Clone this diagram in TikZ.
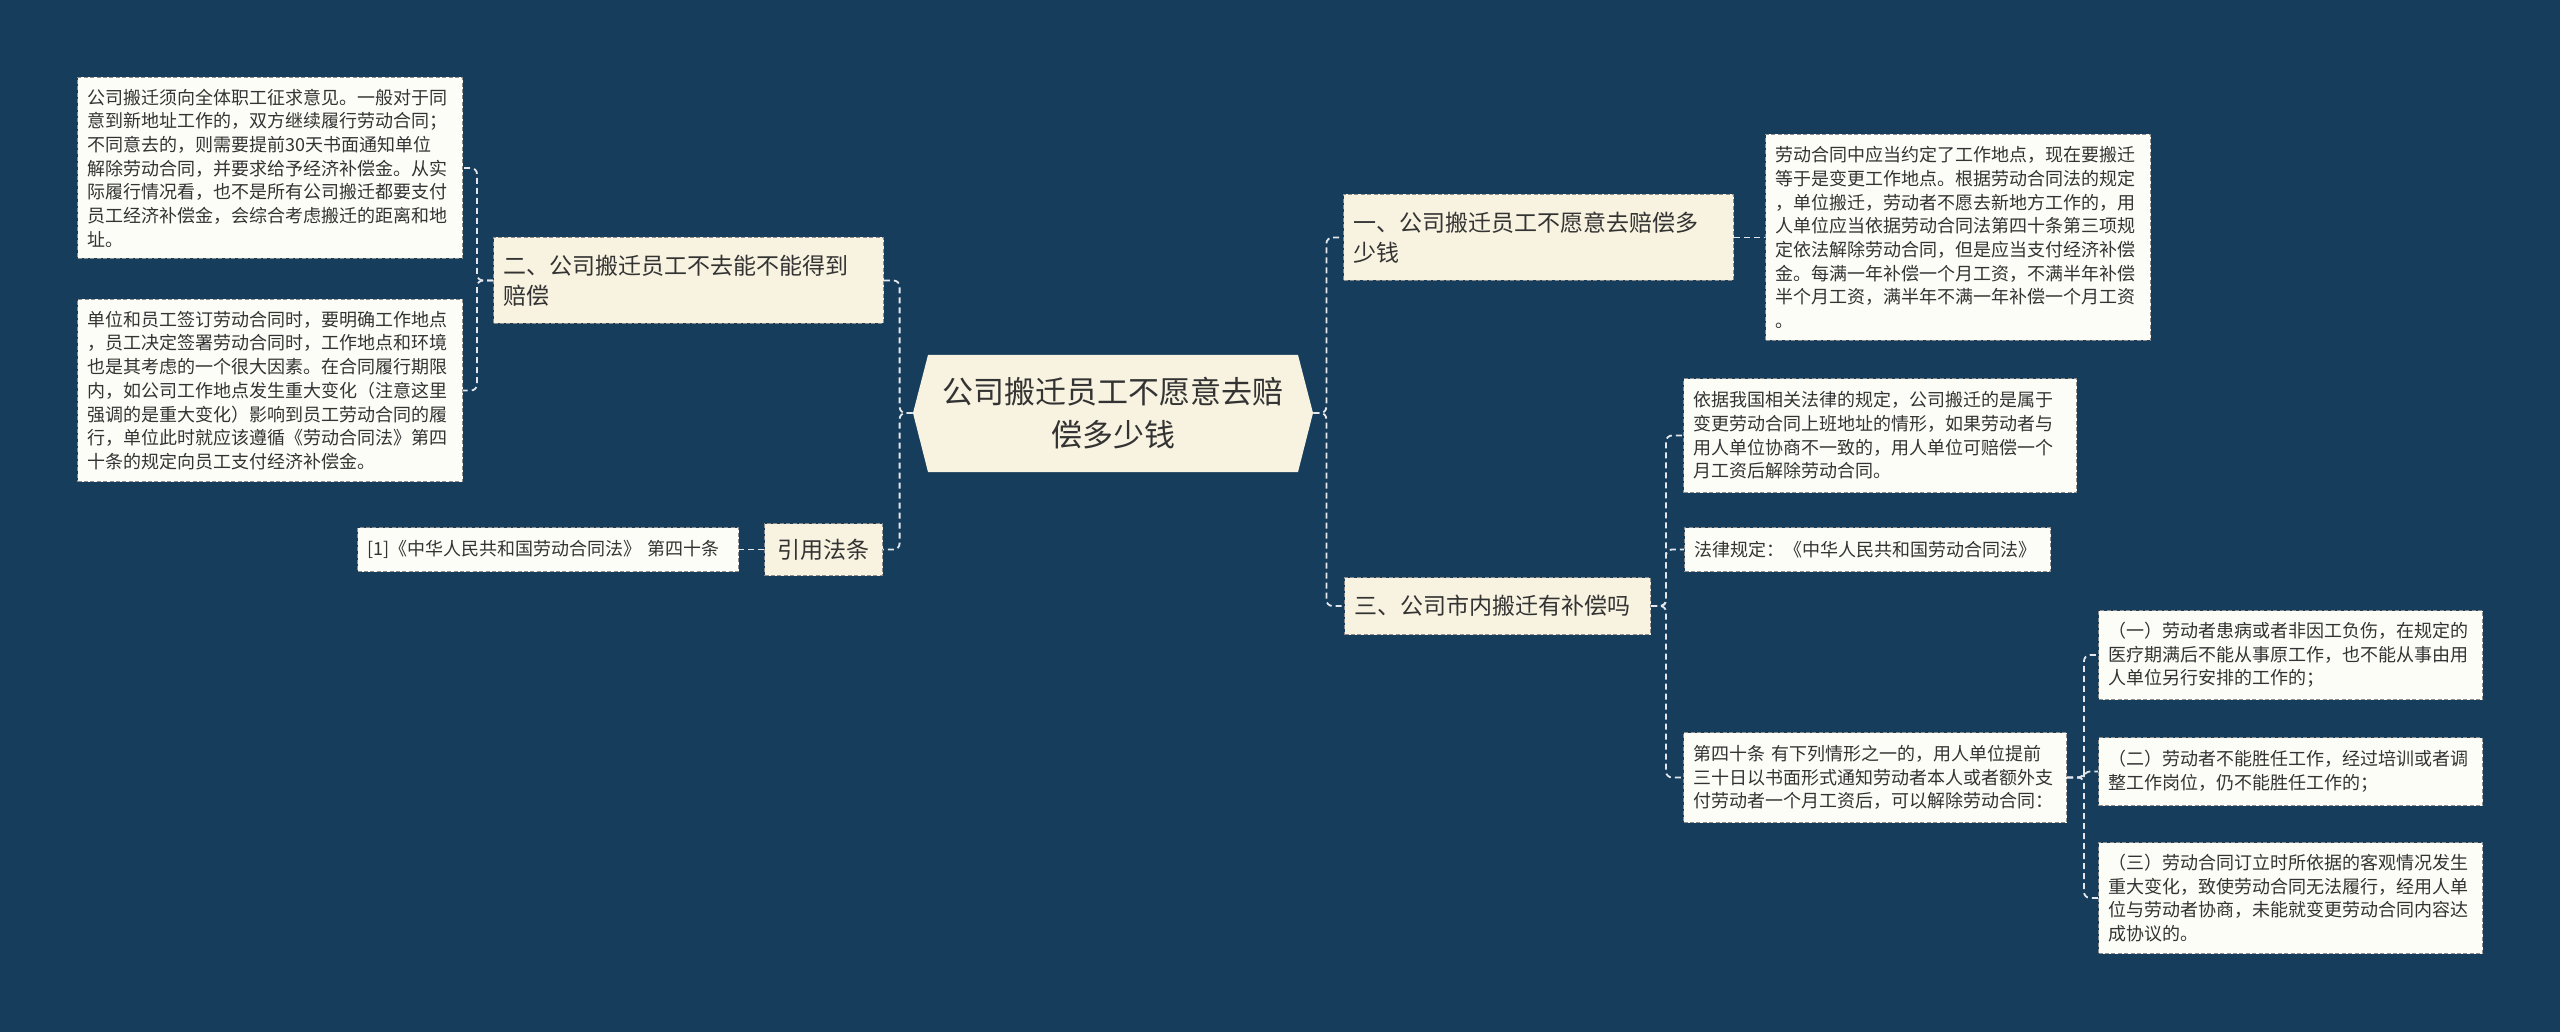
\documentclass[tikz,border=0pt]{standalone}
\usepackage{fontspec}
\setmainfont{Noto Sans CJK SC}
\usetikzlibrary{positioning}
\definecolor{bg}{HTML}{173D5C}
\definecolor{cream}{HTML}{F8F3E0}
\definecolor{paper}{HTML}{FDFDF8}
\definecolor{ink}{HTML}{333333}
\definecolor{rim}{HTML}{8C8C8C}
\definecolor{wire}{HTML}{E4E8EC}
\tikzset{
  box/.style={draw=rim, dash pattern=on 2pt off 1.2pt, line width=0.5pt, text=ink, align=left, anchor=north west, inner xsep=5pt, inner ysep=0pt},
  leaf/.style={box, fill=paper, font=\fontsize{9pt}{11.85pt}\selectfont},
  topic/.style={box, fill=cream, font=\fontsize{11.5pt}{15pt}\selectfont},
  link/.style={draw=wire, line width=0.9pt, dash pattern=on 3pt off 2pt, rounded corners=3pt},
}
\begin{document}
\begin{tikzpicture}[x=0.5pt,y=-0.5pt]
    \useasboundingbox (0,0) rectangle (2560,1032);
    \fill[bg] (0,0) rectangle (2560,1032);
    \fill[cream] (913,413) -- (928,355) -- (1298,355) -- (1313,413) -- (1298,472) -- (928,472) -- cycle;
    \node[text=ink, align=center, inner sep=0, minimum width=200pt, minimum height=59pt, font=\fontsize{15.5pt}{21.5pt}\selectfont] (hub) at (1113,413) {公司搬迁员工不愿意去赔\\偿多少钱};

    \node[topic, text width=185pt, minimum height=43pt] (sec2) at (493,237) {二、公司搬迁员工不去能不能得到\\赔偿};
    \node[topic, align=center, inner xsep=0pt, minimum width=59pt, minimum height=26pt] (cite) at (764,523) {引用法条};
    \node[topic, text width=185pt, minimum height=43pt] (sec1) at (1343,194) {一、公司搬迁员工不愿意去赔偿多\\少钱};
    \node[topic, text width=143pt, minimum height=28.5pt] (sec3) at (1344,577) {三、公司市内搬迁有补偿吗};

    \node[leaf, text width=182.5pt, minimum height=90.5pt] (l1) at (77,77) {公司搬迁须向全体职工征求意见。一般对于同\\意到新地址工作的，双方继续履行劳动合同；\\不同意去的，则需要提前30天书面通知单位\\解除劳动合同，并要求给予经济补偿金。从实\\际履行情况看，也不是所有公司搬迁都要支付\\员工经济补偿金，会综合考虑搬迁的距离和地\\址。};
    \node[leaf, text width=182.5pt, minimum height=91pt] (l2) at (77,299) {单位和员工签订劳动合同时，要明确工作地点\\，员工决定签署劳动合同时，工作地点和环境\\也是其考虑的一个很大因素。在合同履行期限\\内，如公司工作地点发生重大变化（注意这里\\强调的是重大变化）影响到员工劳动合同的履\\行，单位此时就应该遵循《劳动合同法》第四\\十条的规定向员工支付经济补偿金。};
    \node[leaf, text width=180.5pt, minimum height=22pt] (law1) at (357,527) {[1]《中华人民共和国劳动合同法》 第四十条};

    \node[leaf, text width=182.5pt, minimum height=103pt] (r1) at (1765,134) {劳动合同中应当约定了工作地点，现在要搬迁\\等于是变更工作地点。根据劳动合同法的规定\\，单位搬迁，劳动者不愿去新地方工作的，用\\人单位应当依据劳动合同法第四十条第三项规\\定依法解除劳动合同，但是应当支付经济补偿\\金。每满一年补偿一个月工资，不满半年补偿\\半个月工资，满半年不满一年补偿一个月工资\\。};
    \node[leaf, text width=186.5pt, minimum height=57pt] (r2) at (1683,378) {依据我国相关法律的规定，公司搬迁的是属于\\变更劳动合同上班地址的情形，如果劳动者与\\用人单位协商不一致的，用人单位可赔偿一个\\月工资后解除劳动合同。};
    \node[leaf, text width=173pt, minimum height=22pt] (r3) at (1684,527) {法律规定：《中华人民共和国劳动合同法》};
    \node[leaf, text width=181.5pt, minimum height=45pt] (r4) at (1683,732) {第四十条 有下列情形之一的，用人单位提前\\三十日以书面形式通知劳动者本人或者额外支\\付劳动者一个月工资后，可以解除劳动合同：};
    \node[leaf, text width=182pt, minimum height=44.5pt] (t1) at (2098,610) {（一）劳动者患病或者非因工负伤，在规定的\\医疗期满后不能从事原工作，也不能从事由用\\人单位另行安排的工作的；};
    \node[leaf, text width=182pt, minimum height=34pt] (t2) at (2098,737) {（二）劳动者不能胜任工作，经过培训或者调\\整工作岗位，仍不能胜任工作的；};
    \node[leaf, text width=182pt, minimum height=55.5pt] (t3) at (2098,842) {（三）劳动合同订立时所依据的客观情况发生\\重大变化，致使劳动合同无法履行，经用人单\\位与劳动者协商，未能就变更劳动合同内容达\\成协议的。};

    \draw[link] (hub.west) -- ++(-13,0) |- (sec2.east);
    \draw[link] (hub.west) -- ++(-13,0) |- (cite.east);
    \draw[link] (sec2.west) -- ++(-16,0) |- (l1.east);
    \draw[link] (sec2.west) -- ++(-16,0) |- (l2.east);
    \draw[link] (cite.west) -- (law1.east);
    \draw[link] (hub.east) -- ++(13,0) |- (sec1.west);
    \draw[link] (hub.east) -- ++(13,0) |- (sec3.west);
    \draw[link] (sec1.east) -- (r1.west);
    \draw[link] (sec3.east) -- ++(15,0) |- (r2.west);
    \draw[link] (sec3.east) -- ++(15,0) |- (r3.west);
    \draw[link] (sec3.east) -- ++(15,0) |- (r4.west);
    \draw[link] (r4.east) -- ++(17,0) |- (t1.west);
    \draw[link] (r4.east) -- ++(17,0) |- (t2.west);
    \draw[link] (r4.east) -- ++(17,0) |- (t3.west);
\end{tikzpicture}
\end{document}
